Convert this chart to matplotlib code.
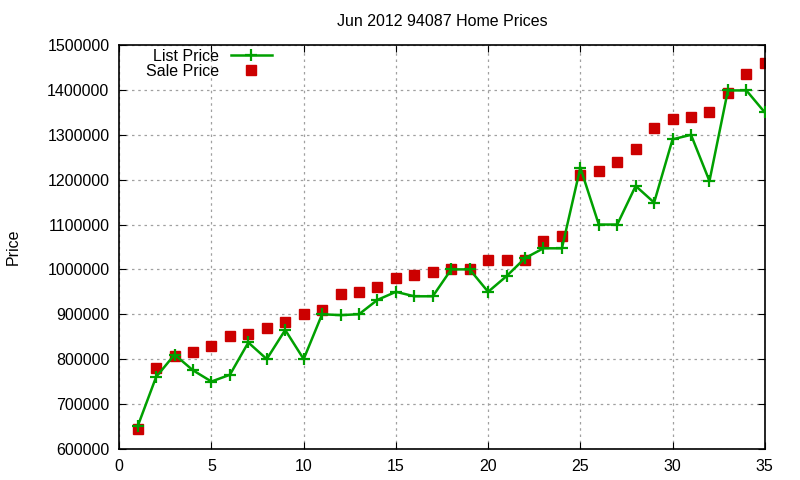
import matplotlib
matplotlib.use("Agg")
import matplotlib.pyplot as plt

plt.rcParams['font.family'] = ['Liberation Sans', 'DejaVu Sans']

# data
homes = list(range(1, 36))
list_price = [650000, 760000, 810000, 775000, 750000, 765000, 837000, 800000, 865000, 800000,
              900000, 898000, 900000, 932000, 950000, 940000, 940000, 1000000, 1000000, 950000,
              985000, 1025000, 1047000, 1047000, 1227000, 1100000, 1100000, 1186000, 1149000, 1290000,
              1300000, 1197000, 1399000, 1399000, 1350000]
sale_price = [645000, 780000, 808000, 816000, 830000, 852000, 855000, 870000, 883000, 900000,
              910000, 945000, 950000, 960000, 980000, 988000, 995000, 1000000, 1000000, 1020000,
              1020000, 1020000, 1063000, 1075000, 1210000, 1220000, 1240000, 1268000, 1315000, 1335000,
              1339000, 1350000, 1393000, 1435000, 1460000]

fig = plt.figure(figsize=(8, 4.8), dpi=100)
ax = fig.add_axes([0.149, 0.065, 0.807, 0.841])

ax.plot(homes, list_price, color='#00a000', lw=1.8, marker='+', ms=9, mew=1.6, label='List Price', zorder=3)
ax.plot(homes, sale_price, ls='none', color='#cc0000', marker='s', ms=6.6, label='Sale Price', zorder=2)

ax.set_xlim(0, 35)
ax.set_ylim(600000, 1500000)
ax.set_xticks(range(0, 36, 5))
ax.set_yticks(range(600000, 1500001, 100000))
ax.ticklabel_format(style='plain', axis='y', useOffset=False)
ax.tick_params(direction='in', top=True, right=True, labelsize=11.5, length=5, pad=7)
ax.grid(True, color='#a0a0a0', ls=(0, (2, 3)), lw=0.9)
for s in ax.spines.values():
    s.set_linewidth(1.2)

ax.set_title('Jun 2012 94087 Home Prices', fontsize=11.5, pad=14)
fig.text(0.017, 0.485, 'Price', rotation=90, fontsize=11.5, va='center', ha='center')

leg = ax.legend(loc='upper left', bbox_to_anchor=(0.032, 1.006), frameon=False, markerfirst=False,
                fontsize=11.5, handlelength=2.6, handletextpad=0.7, labelspacing=0.0, borderaxespad=0)
for t in leg.get_texts():
    t.set_ha('right')
leg._legend_box.align = 'right'

fig.savefig('out.png', dpi=100)
